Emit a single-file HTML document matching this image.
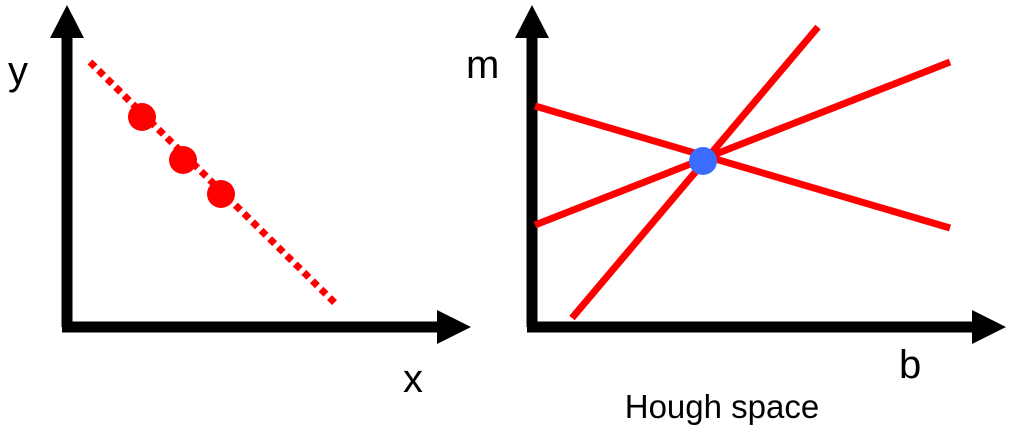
<!DOCTYPE html>
<html><head><style>html,body{margin:0;padding:0;background:#fff;}svg{display:block}</style></head>
<body>
<svg width="1026" height="434" viewBox="0 0 1026 434" xmlns="http://www.w3.org/2000/svg" font-family="Liberation Sans, sans-serif">
<rect width="1026" height="434" fill="#fff"/>
<line x1="67" y1="30" x2="67" y2="327" stroke="#000" stroke-width="11"/>
<line x1="62" y1="327" x2="440" y2="327" stroke="#000" stroke-width="11"/>
<polygon points="67,5 50,38 84,38" fill="#000"/>
<polygon points="471,327 437,310 437,344" fill="#000"/>
<line x1="90" y1="62" x2="338" y2="306" stroke="#f00" stroke-width="7" stroke-dasharray="7,5"/>
<circle cx="142" cy="117" r="14" fill="#f00"/>
<circle cx="183" cy="160" r="14" fill="#f00"/>
<circle cx="221" cy="194" r="14" fill="#f00"/>
<text x="8" y="84" font-size="40">y</text>
<text x="403" y="392" font-size="40">x</text>
<line x1="532" y1="30" x2="532" y2="327" stroke="#000" stroke-width="11"/>
<line x1="527" y1="327" x2="975" y2="327" stroke="#000" stroke-width="11"/>
<polygon points="532,5 515,38 549,38" fill="#000"/>
<polygon points="1006,327 972,310 972,344" fill="#000"/>
<line x1="535" y1="106" x2="950" y2="228" stroke="#f00" stroke-width="7"/>
<line x1="535" y1="225" x2="950" y2="62" stroke="#f00" stroke-width="7"/>
<line x1="572" y1="318" x2="818" y2="27" stroke="#f00" stroke-width="7"/>
<circle cx="703" cy="161" r="14" fill="#3a6cff"/>
<text x="466" y="78" font-size="40">m</text>
<text x="899" y="378" font-size="40">b</text>
<text x="722" y="418" font-size="33" text-anchor="middle">Hough space</text>
</svg>
</body></html>
